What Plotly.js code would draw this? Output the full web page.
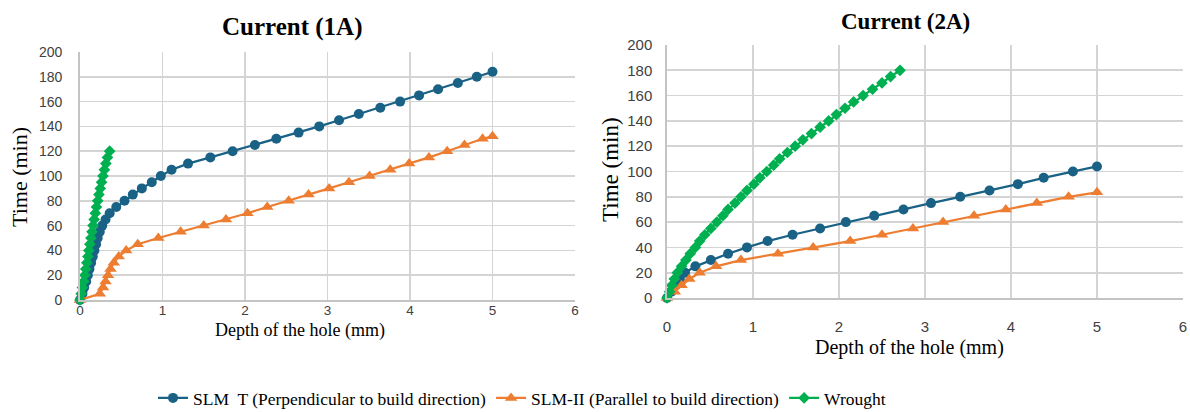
<!DOCTYPE html>
<html>
<head>
<meta charset="utf-8">
<script src="https://cdn.plot.ly/plotly-3.0.1.min.js"></script>
<style>html,body{margin:0;padding:0;background:#fff;}#chart{width:1190px;height:412px;}</style>
</head>
<body>
<div id="chart"></div>
<script>
// ---- Data (Current 1A) ----
const slmT_1A_depth = [0,0.03,0.05,0.075,0.095,0.115,0.135,0.155,0.175,0.195,0.215,0.24,0.27,0.31,0.36,0.44,0.54,0.64,0.75,0.87,0.98,1.11,1.31,1.58,1.85,2.12,2.38,2.65,2.90,3.14,3.38,3.64,3.88,4.11,4.34,4.58,4.81,5.0];
const slmT_1A_time  = [0,5,10,15,20,25,30,35,40,45,50,55,60,65,70,75,80,85,90,95,100,105,110,115,120,125,130,135,140,145,150,155,160,165,170,175,180,184];
const slmII_1A_depth = [0,0.24,0.28,0.31,0.34,0.37,0.41,0.47,0.56,0.70,0.95,1.22,1.50,1.77,2.03,2.27,2.53,2.77,3.02,3.26,3.51,3.76,3.99,4.23,4.45,4.66,4.88,5.0];
const slmII_1A_time  = [0,5,10,15,20,25,30,35,40,45,50,55,60,65,70,75,80,85,90,95,100,105,110,115,120,125,130,132];
const wrought_1A_depth = [0,0.015,0.03,0.045,0.058,0.07,0.083,0.096,0.108,0.12,0.133,0.146,0.158,0.172,0.186,0.2,0.215,0.23,0.246,0.262,0.279,0.296,0.314,0.333,0.36];
const wrought_1A_time  = [0,5,10,15,20,25,30,35,40,45,50,55,60,65,70,75,80,85,90,95,100,105,110,115,120];

// ---- Data (Current 2A) ----
const slmT_2A_depth = [0,0.05,0.1,0.15,0.21,0.33,0.51,0.71,0.93,1.17,1.46,1.78,2.08,2.41,2.75,3.07,3.41,3.75,4.08,4.38,4.72,5.0];
const slmT_2A_time  = [0,5,10,15,20,25,30,35,40,45,50,55,60,65,70,75,80,85,90,95,100,104];
const slmII_2A_depth = [0,0.09,0.17,0.26,0.38,0.57,0.86,1.29,1.70,2.13,2.50,2.86,3.21,3.57,3.94,4.30,4.67,5.0];
const slmII_2A_time  = [0,5,10,15,20,25,30,35,40,45,50,55,60,65,70,75,80,83.5];
const wrought_2A_depth = [0,0.03,0.055,0.085,0.12,0.17,0.22,0.27,0.33,0.38,0.44,0.51,0.58,0.65,0.71,0.79,0.86,0.93,1.01,1.08,1.16,1.24,1.31,1.40,1.49,1.58,1.68,1.78,1.88,1.97,2.07,2.17,2.28,2.39,2.50,2.60,2.71];
const wrought_2A_time  = [0,5,10,15,20,25,30,35,40,45,50,55,60,65,70,75,80,85,90,95,100,105,110,115,120,125,130,135,140,145,150,155,160,165,170,175,180];

const seriesNames = ["SLM\u00a0 T (Perpendicular to build direction)", "SLM-II (Parallel to build direction)", "Wrought"];
const chartTitles = ["Current (1A)", "Current (2A)"];
const xTitle = "Depth of the hole (mm)";
const yTitle = "Time (min)";

const BLUE = "#1A6285", ORANGE = "#ED7D31", GREEN = "#00B050";
const SERIF = "Liberation Serif, Times New Roman, serif";
const SANS = "Liberation Sans, Arial, sans-serif";

function tr(x, y, name, color, symbol, size, xa, ya, show) {
  return {
    type: "scatter", mode: "lines+markers", x: x, y: y, name: name,
    xaxis: xa, yaxis: ya, showlegend: show, cliponaxis: false,
    line: {color: color, width: 2.25},
    marker: {color: color, symbol: symbol, size: size, line: {width: 0}}
  };
}

const data = [
  tr(slmT_1A_depth, slmT_1A_time, seriesNames[0], BLUE, "circle", 10, "x", "y", true),
  tr(slmII_1A_depth, slmII_1A_time, seriesNames[1], ORANGE, "triangle-up", 11, "x", "y", true),
  tr(wrought_1A_depth, wrought_1A_time, seriesNames[2], GREEN, "diamond", 9, "x", "y", true),
  tr(slmT_2A_depth, slmT_2A_time, seriesNames[0], BLUE, "circle", 10, "x2", "y2", false),
  tr(slmII_2A_depth, slmII_2A_time, seriesNames[1], ORANGE, "triangle-up", 11, "x2", "y2", false),
  tr(wrought_2A_depth, wrought_2A_time, seriesNames[2], GREEN, "diamond", 9, "x2", "y2", false)
];

function xax(domain, anchor, fs, lstand) {
  return {
    domain: domain, range: [0, 6], dtick: 1, tick0: 0, anchor: anchor,
    showgrid: true, gridcolor: "#d4d4d4", gridwidth: 1.75,
    zeroline: false, showline: true, linecolor: "#c4c4c4", linewidth: 1.75,
    ticks: "", ticklabelstandoff: lstand,
    tickfont: {family: SANS, size: fs, color: "#404040"},
    automargin: false
  };
}
function yax(domain, anchor, fs, lstand) {
  return {
    domain: domain, range: [0, 200], dtick: 20, tick0: 0, anchor: anchor,
    showgrid: true, gridcolor: "#d4d4d4", gridwidth: 1.75,
    zeroline: false, showline: true, linecolor: "#c4c4c4", linewidth: 1.75,
    ticks: "", ticklabelstandoff: lstand,
    tickfont: {family: SANS, size: fs, color: "#404040"},
    automargin: false
  };
}

function ann(text, x, y, size, angle) {
  return {text: text, xref: "paper", yref: "paper", x: x/1190, y: 1 - y/412,
    xanchor: "center", yanchor: "middle", showarrow: false, textangle: angle || 0,
    font: {family: SERIF, size: size, color: "#000"}};
}

const layout = {
  width: 1190, height: 412,
  margin: {l: 0, r: 0, t: 0, b: 0, autoexpand: false},
  paper_bgcolor: "#fff", plot_bgcolor: "#fff",
  showlegend: true,
  legend: {
    orientation: "h", x: 522/1190, xanchor: "center", y: 14/412, yanchor: "middle",
    font: {family: SERIF, size: 17.5, color: "#000"}, itemwidth: 30, tracegroupgap: 0
  },
  xaxis: xax([0.0672, 0.4832], "y", 13.5, -3),
  yaxis: yax([0.2718, 0.8738], "x", 14, 13),
  xaxis2: xax([0.5605, 0.9941], "y2", 15, 14),
  yaxis2: yax([0.2767, 0.8908], "x2", 15, 10),
  annotations: [
    ann("<b>" + chartTitles[0] + "</b>", 292, 27, 25),
    ann("<b>" + chartTitles[1] + "</b>", 905, 22, 23),
    ann(xTitle, 300, 330, 18),
    ann(xTitle, 910, 347, 20),
    ann(yTitle, 20, 177, 22, -90),
    ann(yTitle, 610, 170, 23, -90)
  ]
};

Plotly.newPlot("chart", data, layout, {displayModeBar: false, staticPlot: true});
</script>
</body>
</html>
